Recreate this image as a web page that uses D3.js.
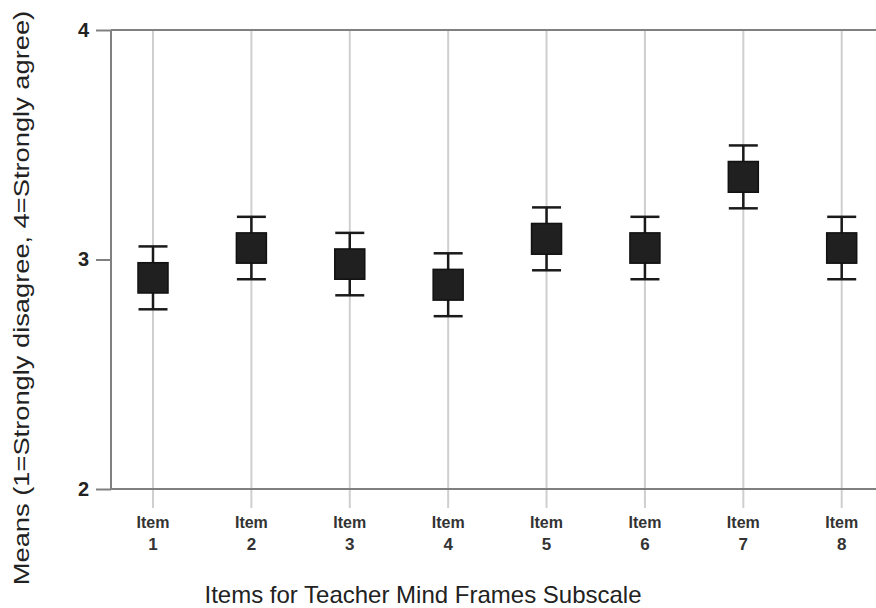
<!doctype html>
<html lang="en">
<head>
<meta charset="UTF-8">
<title>Teacher Mind Frames</title>
<script src="https://d3js.org/d3.v7.min.js"></script>
<style>
  body { margin: 0; background: #fff; }
  svg { display: block; }
  text { font-family: "Liberation Sans", Arial, Helvetica, sans-serif; fill: #1a1a1a; }
  .ytick text { font-size: 20px; font-weight: bold; fill: #222; }
</style>
</head>
<body>
<svg width="876" height="608"></svg>
<script>
  const items = ['1', '2', '3', '4', '5', '6', '7', '8'];
  const means = [2.92, 3.05, 2.98, 2.89, 3.09, 3.05, 3.36, 3.05];
  const boxHalf = [0.066, 0.066, 0.066, 0.067, 0.067, 0.066, 0.067, 0.066];
  const ciHalf = [0.137, 0.136, 0.136, 0.137, 0.137, 0.136, 0.137, 0.136];
  const yTicks = [2, 3, 4];

  const data = items.map((d, i) => ({ item: d, mean: means[i], box: boxHalf[i], ci: ciHalf[i] }));

  const svg = d3.select('svg');
  const plotLeft = 111, plotRight = 876, plotTop = 30, plotBottom = 489;

  const x = d3.scalePoint().domain(items).range([153, 841.7]);
  const y = d3.scaleLinear().domain([2, 4]).range([plotBottom, plotTop]);

  // vertical grid lines
  svg.append('g').selectAll('line')
    .data(items).enter().append('line')
    .attr('x1', d => x(d)).attr('x2', d => x(d))
    .attr('y1', plotTop).attr('y2', 508)
    .attr('stroke', '#cfcfcf').attr('stroke-width', 2);

  // y axis
  const yAxis = svg.append('g')
    .attr('class', 'ytick')
    .attr('transform', `translate(${plotLeft},0)`)
    .call(d3.axisLeft(y).tickValues(yTicks).tickSize(15).tickPadding(7).tickFormat(d3.format('d')));
  yAxis.select('.domain').remove();
  yAxis.selectAll('line').attr('stroke', '#808080').attr('stroke-width', 2);

  svg.append('line')
    .attr('x1', plotLeft).attr('x2', plotLeft).attr('y1', y(4)).attr('y2', y(2))
    .attr('stroke', '#808080').attr('stroke-width', 2);

  // top and bottom frame lines
  [4, 2].forEach(v => {
    svg.append('line')
      .attr('x1', plotLeft).attr('x2', plotRight).attr('y1', y(v)).attr('y2', y(v))
      .attr('stroke', '#808080').attr('stroke-width', 2.2);
  });

  // whiskers
  const marks = svg.append('g').selectAll('g')
    .data(data).enter().append('g');

  marks.append('line')
    .attr('x1', d => x(d.item)).attr('x2', d => x(d.item))
    .attr('y1', d => y(d.mean + d.ci)).attr('y2', d => y(d.mean - d.ci))
    .attr('stroke', '#1a1a1a').attr('stroke-width', 2.5);

  [1, -1].forEach(s => {
    marks.append('line')
      .attr('x1', d => x(d.item) - 14.5).attr('x2', d => x(d.item) + 14.5)
      .attr('y1', d => y(d.mean + s * d.ci)).attr('y2', d => y(d.mean + s * d.ci))
      .attr('stroke', '#1a1a1a').attr('stroke-width', 2.5);
  });

  marks.append('rect')
    .attr('x', d => x(d.item) - 15)
    .attr('y', d => y(d.mean + d.box))
    .attr('width', 30)
    .attr('height', d => y(d.mean - d.box) - y(d.mean + d.box))
    .attr('fill', '#202020').attr('stroke', '#111').attr('stroke-width', 1.5);

  // x labels
  const xl = svg.append('g').selectAll('g')
    .data(items).enter().append('g')
    .attr('transform', d => `translate(${x(d)},0)`);
  xl.append('text').attr('y', 528).attr('text-anchor', 'middle')
    .style('font-size', '16px').style('font-weight', 'bold').style('fill', '#333').text('Item');
  xl.append('text').attr('y', 550).attr('text-anchor', 'middle')
    .style('font-size', '17px').style('font-weight', 'bold').style('fill', '#333').text(d => d);

  // axis titles
  svg.append('text')
    .attr('x', 423).attr('y', 603).attr('text-anchor', 'middle')
    .style('font-size', '24px').style('fill', '#222')
    .text('Items for Teacher Mind Frames Subscale');

  svg.append('text')
    .attr('transform', 'translate(29,298) rotate(-90) scale(1.24,1)')
    .attr('text-anchor', 'middle')
    .style('font-size', '22px').style('fill', '#222')
    .text('Means (1=Strongly disagree, 4=Strongly agree)');
</script>
</body>
</html>
